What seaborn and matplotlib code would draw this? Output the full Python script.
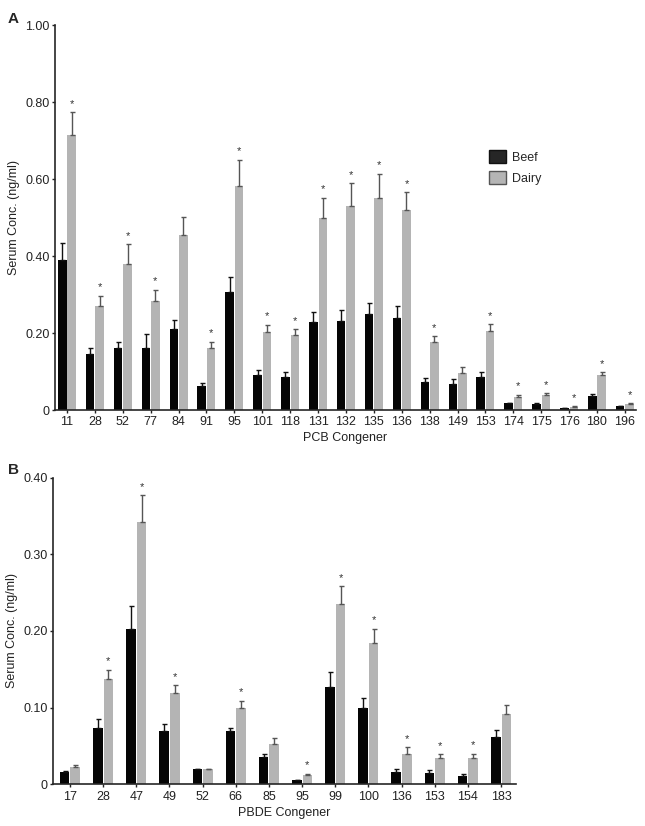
import numpy as np
import pandas as pd
import matplotlib
matplotlib.use("Agg")
import matplotlib.pyplot as plt
import seaborn as sns
from matplotlib.patches import Patch

# panel A - PCB congeners
pcb_names = ['11', '28', '52', '77', '84', '91', '95', '101', '118', '131', '132',
             '135', '136', '138', '149', '153', '174', '175', '176', '180', '196']
pcb_beef = [0.390, 0.145, 0.162, 0.162, 0.210, 0.062, 0.306, 0.091, 0.087, 0.228, 0.231,
            0.249, 0.238, 0.072, 0.068, 0.087, 0.017, 0.016, 0.004, 0.036, 0.010]
pcb_beef_err = [0.043, 0.017, 0.015, 0.035, 0.024, 0.007, 0.039, 0.013, 0.011, 0.026, 0.028,
                0.028, 0.033, 0.010, 0.012, 0.011, 0.001, 0.001, 0.001, 0.005, 0.001]
pcb_dairy = [0.715, 0.270, 0.379, 0.284, 0.455, 0.162, 0.583, 0.203, 0.194, 0.498, 0.530,
             0.551, 0.519, 0.176, 0.096, 0.205, 0.035, 0.038, 0.009, 0.091, 0.015]
pcb_dairy_err = [0.058, 0.027, 0.051, 0.029, 0.047, 0.015, 0.067, 0.018, 0.016, 0.054, 0.059,
                 0.062, 0.047, 0.015, 0.017, 0.018, 0.004, 0.005, 0.001, 0.007, 0.002]
pcb_star = [1, 1, 1, 1, 0, 1, 1, 1, 1, 1, 1, 1, 1, 1, 0, 1, 1, 1, 1, 1, 1]

# panel B - PBDE congeners
pbde_names = ['17', '28', '47', '49', '52', '66', '85', '95', '99', '100', '136', '153', '154', '183']
pbde_beef = [0.0156, 0.074, 0.203, 0.069, 0.020, 0.069, 0.0356, 0.005, 0.127, 0.099, 0.016, 0.015, 0.011, 0.0615]
pbde_beef_err = [0.0014, 0.011, 0.030, 0.009, 0.0005, 0.005, 0.0044, 0.0005, 0.019, 0.014, 0.004, 0.003, 0.003, 0.0095]
pbde_dairy = [0.023, 0.137, 0.342, 0.119, 0.0195, 0.100, 0.0525, 0.0125, 0.235, 0.184, 0.040, 0.034, 0.034, 0.0915]
pbde_dairy_err = [0.0025, 0.012, 0.035, 0.010, 0.0005, 0.009, 0.0075, 0.0015, 0.023, 0.019, 0.008, 0.005, 0.006, 0.0125]
pbde_star = [0, 1, 1, 1, 0, 1, 0, 1, 1, 1, 1, 1, 1, 0]

groups = ['Beef', 'Dairy']
bar_colors = {'Beef': '#050505', 'Dairy': '#b4b4b4'}
err_colors = {'Beef': '#111111', 'Dairy': '#555555'}

sns.set_style("ticks")
plt.rcParams['font.family'] = ['Liberation Sans', 'DejaVu Sans']
plt.rcParams['axes.linewidth'] = 1.2
plt.rcParams['xtick.color'] = '#222222'
plt.rcParams['ytick.color'] = '#222222'


def make_df(names, beef, dairy):
    return pd.DataFrame({
        'congener': names * 2,
        'conc': list(beef) + list(dairy),
        'group': ['Beef'] * len(names) + ['Dairy'] * len(names),
    })


def panel(ax, names, beef, beef_err, dairy, dairy_err, stars, width, ymax, yticks, xlabel, xlim):
    df = make_df(names, beef, dairy)
    sns.barplot(data=df, x='congener', y='conc', hue='group', hue_order=groups,
                palette=bar_colors, width=width, gap=0.1, saturation=1,
                errorbar=None, legend=False, ax=ax, linewidth=0)
    errs = {'Beef': beef_err, 'Dairy': dairy_err}
    vals = {'Beef': beef, 'Dairy': dairy}
    for cont, g in zip(ax.containers, groups):
        xs = [p.get_x() + p.get_width() / 2 for p in cont.patches]
        ax.errorbar(xs, vals[g], yerr=[np.zeros(len(xs)), errs[g]], fmt='none',
                    ecolor=err_colors[g], elinewidth=1.0, capsize=1.8, capthick=1.0)
        if g == 'Dairy':
            for x, v, e, s in zip(xs, vals[g], errs[g], stars):
                if s:
                    ax.annotate('*', (x, v + e), xytext=(0, 2.5), textcoords='offset points',
                                ha='center', va='bottom', fontsize=8, color='#333333')
    ax.set_ylim(0, ymax)
    ax.set_xlim(*xlim)
    ax.set_yticks(yticks)
    ax.set_yticklabels(['0'] + ['%.2f' % t for t in yticks[1:]], fontsize=9)
    ax.tick_params(axis='x', labelsize=9, length=2.5, width=1, pad=2)
    ax.tick_params(axis='y', length=2.5, width=1, pad=1.5)
    ax.set_xlabel(xlabel, fontsize=9, color='#222222', labelpad=3)
    ax.set_ylabel('Serum Conc. (ng/ml)', fontsize=9, color='#222222', labelpad=4)
    sns.despine(ax=ax)


fig = plt.figure(figsize=(6.45, 8.26), dpi=100)
ax_a = fig.add_axes([0.0853, 0.5036, 0.9008, 0.4661])
ax_b = fig.add_axes([0.0822, 0.0505, 0.7178, 0.3713])

panel(ax_a, pcb_names, pcb_beef, pcb_beef_err, pcb_dairy, pcb_dairy_err, pcb_star,
      0.68, 1.0, [0, 0.2, 0.4, 0.6, 0.8, 1.0], 'PCB Congener', (-0.43, 20.4))
panel(ax_b, pbde_names, pbde_beef, pbde_beef_err, pbde_dairy, pbde_dairy_err, pbde_star,
      0.64, 0.4, [0, 0.1, 0.2, 0.3, 0.4], 'PBDE Congener', (-0.51, 13.45))

handles = [Patch(facecolor='#262626', edgecolor='#111111', linewidth=1),
           Patch(facecolor='#b5b5b5', edgecolor='#555555', linewidth=1)]
ax_a.legend(handles, groups, loc='upper left', bbox_to_anchor=(0.728, 0.705), frameon=False,
            fontsize=9, handlelength=1.35, handleheight=1.25, labelspacing=0.6, handletextpad=0.45)

fig.text(0.012, 0.985, 'A', fontsize=11, fontweight='bold', va='top')
fig.text(0.012, 0.44, 'B', fontsize=11, fontweight='bold', va='top')

fig.savefig('out.png', dpi=100)
